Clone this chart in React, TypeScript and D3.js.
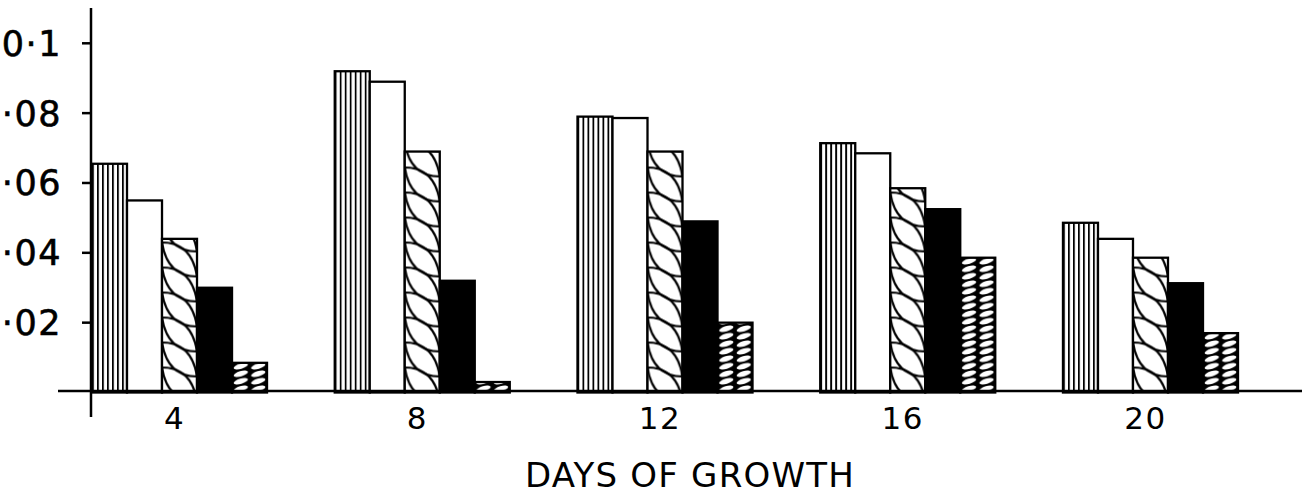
import React from 'react';
import * as d3 from 'd3';

const days = ['4', '8', '12', '16', '20'];
const seriesKeys = ['s1', 's2', 's3', 's4', 's5'];
const s1 = [0.0655, 0.092, 0.079, 0.0714, 0.0486];
const s2 = [0.055, 0.089, 0.0786, 0.0685, 0.044];
const s3 = [0.044, 0.069, 0.069, 0.0585, 0.0386];
const s4 = [0.030, 0.032, 0.049, 0.0525, 0.0313];
const s5 = [0.0085, 0.003, 0.020, 0.0386, 0.017];
const seriesValues = [s1, s2, s3, s4, s5];
const yTicks = [0.02, 0.04, 0.06, 0.08, 0.1];
const yTickLabels = ['·02', '·04', '·06', '·08', '0·1'];
const xTitle = 'DAYS OF GROWTH';

const W = 1316;
const H = 494;
const FONT = "'DejaVu Sans', sans-serif";

export default function App() {
  const x0 = d3.scaleBand<string>().domain(days).range([92, 1238]).paddingInner(0.279).paddingOuter(0);
  const x1 = d3.scaleBand<string>().domain(seriesKeys).range([0, x0.bandwidth()]);
  const y = d3.scaleLinear().domain([0, 0.1]).range([392.5, 43.3]);
  const bw = x1.bandwidth();
  const y0 = y(0);

  const defs: React.ReactNode[] = [];
  const bars: React.ReactNode[] = [];

  days.forEach((d, gi) => {
    seriesKeys.forEach((k, si) => {
      const v = seriesValues[si][gi];
      const bx = (x0(d) as number) + (x1(k) as number);
      const by = y(v);
      const bh = y0 - by;
      const id = `p-${gi}-${si}`;
      let fill = 'white';
      if (si === 0) {
        defs.push(
          <pattern key={id} id={id} patternUnits="userSpaceOnUse" x={bx} y={0} width={bw / 7} height={10}>
            <rect width={bw / 7} height={10} fill="white" />
            <line x1={0.9} y1={0} x2={0.9} y2={10} stroke="black" strokeWidth={1.8} />
          </pattern>
        );
        fill = `url(#${id})`;
      } else if (si === 2) {
        const p = 25;
        const L = 34;
        const curves: React.ReactNode[] = [];
        [-2, -1, 0, 1].forEach((o) => {
          const yy = o * p;
          curves.push(
            <path key={`a${o}`} d={`M0,${yy} Q${bw * 0.85},${yy} ${bw},${yy + L}`} fill="none" stroke="black" strokeWidth={2.2} />,
            <path key={`b${o}`} d={`M0,${yy} Q${bw * 0.15},${yy + L} ${bw},${yy + L}`} fill="none" stroke="black" strokeWidth={2.2} />
          );
        });
        defs.push(
          <pattern key={id} id={id} patternUnits="userSpaceOnUse" x={bx} y={y0} width={bw} height={p}>
            <rect width={bw} height={p} fill="white" />
            {curves}
          </pattern>
        );
        fill = `url(#${id})`;
      } else if (si === 3) {
        fill = 'black';
      } else if (si === 4) {
        const tw = bw / 2;
        const th = 7.5;
        defs.push(
          <pattern key={id} id={id} patternUnits="userSpaceOnUse" x={bx} y={y0} width={tw} height={th}>
            <rect width={tw} height={th} fill="black" />
            <ellipse cx={tw / 2} cy={th / 2} rx={tw * 0.42} ry={2.6} fill="white" transform={`rotate(-16 ${tw / 2} ${th / 2})`} />
          </pattern>
        );
        fill = `url(#${id})`;
      }
      bars.push(
        <rect key={`b-${gi}-${si}`} x={bx} y={by} width={bw} height={bh} fill={fill} stroke="black" strokeWidth={2.3} />
      );
    });
  });

  return (
    <svg width={W} height={H} style={{ position: 'absolute', left: 0, top: 0, background: 'white' }}>
      <defs>{defs}</defs>
      <rect width={W} height={H} fill="white" />
      {bars}
      <line x1={58} x2={1302} y1={391} y2={391} stroke="black" strokeWidth={2.5} />
      <line x1={91} x2={91} y1={8} y2={417} stroke="black" strokeWidth={2.5} />
      {yTicks.map((t, i) => (
        <g key={`yt${i}`}>
          <line x1={82} x2={91} y1={y(t)} y2={y(t)} stroke="black" strokeWidth={2.5} />
          <text x={62} y={y(t) + 12.5} textAnchor="end" fontFamily={FONT} fontSize={35} letterSpacing={1.5} fill="black" stroke="black" strokeWidth={0.6}>
            {yTickLabels[i]}
          </text>
        </g>
      ))}
      {days.map((d) => (
        <text key={`xt${d}`} x={(x0(d) as number) + x0.bandwidth() / 2 - 5} y={429} textAnchor="middle" fontFamily={FONT} fontSize={31} letterSpacing={1.5} fill="black">
          {d}
        </text>
      ))}
      <text x={525} y={487} textAnchor="start" fontFamily={FONT} fontSize={34} letterSpacing={1.2} fill="black">
        {xTitle}
      </text>
    </svg>
  );
}
